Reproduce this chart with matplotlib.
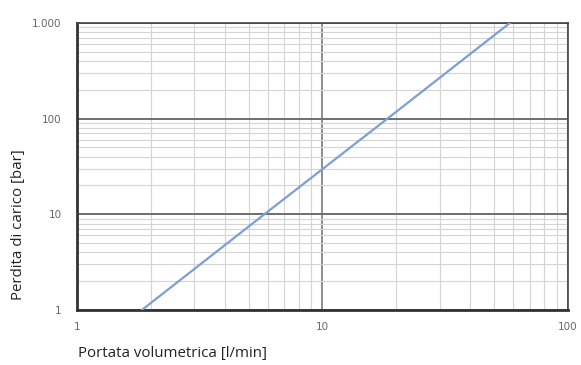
import matplotlib
matplotlib.use("Agg")
import matplotlib.pyplot as plt
from matplotlib.ticker import FixedLocator, FuncFormatter, LogLocator, NullFormatter

# perdita di carico ~ portata^2
portata = [1.84, 5.8, 18.4, 58.0]
perdita = [1, 10, 100, 1000]

x_ticks = [1, 10, 100]
y_ticks = [1, 10, 100, 1000]

fig = plt.figure(figsize=(5.81, 3.65), dpi=100)
ax = fig.add_axes([0.1325, 0.151, 0.845, 0.786])

ax.set_xscale('log')
ax.set_yscale('log')
ax.set_xlim(1, 100)
ax.set_ylim(1, 1000)

ax.xaxis.set_minor_locator(LogLocator(base=10, subs=range(2, 10)))
ax.yaxis.set_minor_locator(LogLocator(base=10, subs=range(2, 10)))
ax.xaxis.set_minor_formatter(NullFormatter())
ax.yaxis.set_minor_formatter(NullFormatter())
ax.grid(which='minor', color='#d4d4d4', lw=0.8)
ax.grid(which='major', axis='x', color='#707070', lw=1.1)
ax.grid(which='major', axis='y', color='#6e6e6e', lw=1.4)

ax.plot(portata, perdita, color='#7b9fd6', lw=1.6, zorder=3)

fmt = FuncFormatter(lambda v, p: f'{int(v):,}'.replace(',', '.'))
ax.xaxis.set_major_locator(FixedLocator(x_ticks))
ax.yaxis.set_major_locator(FixedLocator(y_ticks))
ax.xaxis.set_major_formatter(fmt)
ax.yaxis.set_major_formatter(fmt)
ax.tick_params(which='both', length=0, labelsize=7.5, labelcolor='#666666')
ax.tick_params(axis='x', pad=9)
ax.tick_params(axis='y', pad=11)

for s in ['left', 'bottom']:
    ax.spines[s].set_linewidth(2.0)
    ax.spines[s].set_color('#333333')
for s in ['top', 'right']:
    ax.spines[s].set_linewidth(1.2)
    ax.spines[s].set_color('#444444')

fig.text(0.134, 0.012, 'Portata volumetrica [l/min]', fontsize=10.8,
         family='Open Sans', color='#222222', ha='left', va='bottom')
fig.text(0.032, 0.385, 'Perdita di carico [bar]', fontsize=10.8, rotation=90,
         family='Open Sans', color='#222222', ha='center', va='center')

fig.savefig('out.png', dpi=100)
